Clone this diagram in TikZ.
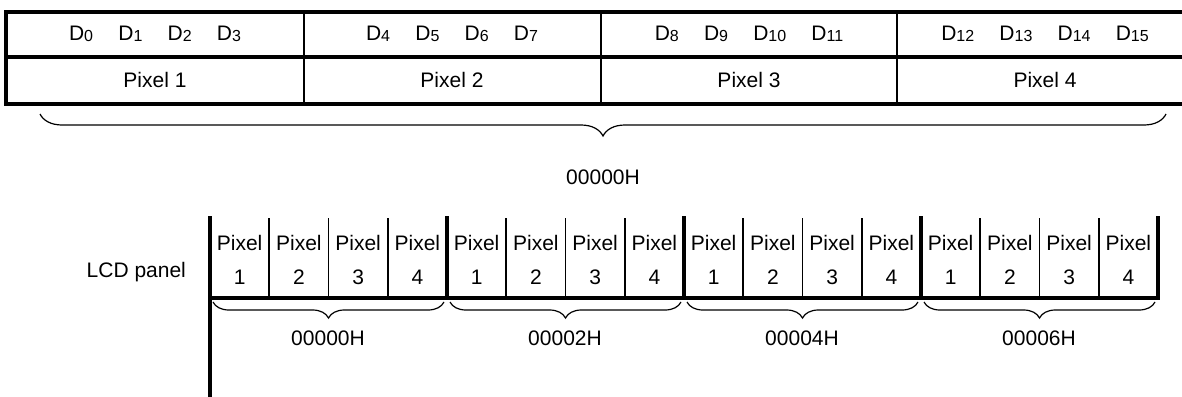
\documentclass[tikz,border=0pt]{standalone}
\usepackage{fontspec}
\setmainfont{Liberation Sans}
\usetikzlibrary{decorations.pathreplacing, calc}
\newcommand{\Dn}[1]{D\raisebox{-0.15ex}{\fontsize{8}{9}\selectfont #1}}
\newcommand{\Dgap}{\hspace{1.2em}}

\begin{document}
\begin{tikzpicture}[x=0.5pt, y=-0.5pt, font=\fontsize{10.5}{12.6}\selectfont,
    thickline/.style={line width=2pt, line cap=rect},
    thinline/.style={line width=0.9pt},
    bracedeco/.style={decorate, decoration={brace, mirror, amplitude=#1}, line width=0.6pt}]
    \useasboundingbox (0,0) rectangle (1182,396);

    % Draw the upper table
    \foreach \x in {304,601,897} \draw[thinline] (\x,12) -- (\x,104);
    \draw[thickline] (1190,12) -- (6,12) -- (6,104) -- (1190,104);
    \draw[thickline] (6,57) -- (1190,57);

    % Data bits and pixels
    \node (d1) at (155,34) {\Dn{0}\Dgap\Dn{1}\Dgap\Dn{2}\Dgap\Dn{3}};
    \node (d2) at (452,34) {\Dn{4}\Dgap\Dn{5}\Dgap\Dn{6}\Dgap\Dn{7}};
    \node (d3) at (749,34) {\Dn{8}\Dgap\Dn{9}\Dgap\Dn{10}\Dgap\Dn{11}};
    \node (d4) at (1045,34) {\Dn{12}\Dgap\Dn{13}\Dgap\Dn{14}\Dgap\Dn{15}};
    \foreach \k/\cx in {1/155, 2/452, 3/749, 4/1045}
        \node (p\k) at (\cx,80) {Pixel \k};

    % Address of the whole word
    \draw[bracedeco=11pt] (40,114) -- (1166,114);
    \node (addr) at (603,177) {00000H};

    % Draw the LCD panel
    \node[anchor=east] (lcd) at (193,272) {LCD panel};
    \foreach \i in {1,...,15} \draw[thinline] ({210+59.25*\i},218) -- ({210+59.25*\i},298);
    \foreach \i in {4,8,12} \draw[thickline] ({210+59.25*\i},218) -- ({210+59.25*\i},298);
    \draw[thickline] (210,218) -- (210,400);
    \draw[thickline] (210,298) -- (1158,298) -- (1158,218);
    \foreach \i in {0,...,15} {
        \pgfmathsetmacro\cx{210+59.25*(\i+0.5)}
        \pgfmathtruncatemacro\n{mod(\i,4)+1}
        \node (px\i) at (\cx,243) {Pixel};
        \node (pn\i) at (\cx,277) {\n};
    }

    % Addresses of the panel words
    \foreach \k/\lab in {0/00000H, 1/00002H, 2/00004H, 3/00006H} {
        \draw[bracedeco=8pt] ({213+237*\k},302) -- ({444+237*\k},302);
        \node (a\k) at ({328+237*\k},338) {\lab};
    }

\end{tikzpicture}
\end{document}
